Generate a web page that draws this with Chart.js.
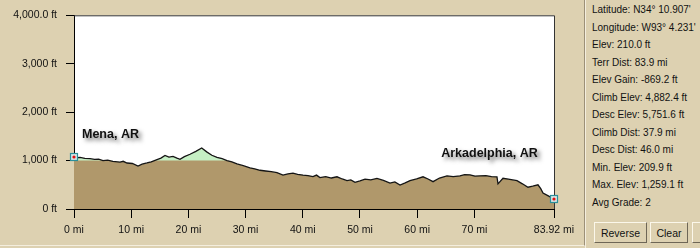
<!DOCTYPE html>
<html><head><meta charset="utf-8">
<script src="https://cdn.jsdelivr.net/npm/chart.js@4"></script>
<style>
html,body{margin:0;padding:0;}
body{background:#ddd1b1;width:700px;height:248px;overflow:hidden;font-family:"Liberation Sans",Arial,sans-serif;position:relative;}
#left{position:absolute;left:0;top:0;width:584px;height:245px;border-right:1px solid #9c9078;border-bottom:1px solid #f4eede;}
#left2{position:absolute;left:585px;top:0;width:1px;height:248px;background:#f4eede;}
#cv{position:absolute;left:0;top:0;width:584px;height:245px;}
#panel{position:absolute;left:592px;top:1px;font-size:10px;color:#111;}
#panel div{height:17.5px;line-height:17.5px;white-space:nowrap;}
.btn{position:absolute;top:222px;height:21px;line-height:21px;text-align:center;font-size:10.5px;color:#111;background:#ddd1b1;border:1px solid;border-color:#fbf7ea #6e6656 #6e6656 #fbf7ea;box-sizing:border-box;}
</style></head>
<body>
<div id="left"><div id="cv"><canvas id="c"></canvas></div></div>
<div id="left2"></div>
<div id="panel"></div>
<div class="btn" style="left:594px;width:53px;">Reverse</div>
<div class="btn" style="left:650px;width:38px;">Clear</div>
<div class="btn" style="left:692px;width:20px;"></div>
<script>
const distMi = [0,0.6,1.05,1.9,2.8,3.6,4.3,5.07,5.9,6.8,8.04,8.6,9.27,10.2,11.19,11.9,12.76,13.5,14.51,15.2,15.91,16.6,17.31,18.0,18.53,19.3,20.28,21.3,22.33,23.2,24.1,25.0,25.9,26.75,27.6,28.5,29.6,30.77,31.6,32.52,33.5,34.5,35.49,36.54,37.4,38.29,39.1,40.04,40.9,41.78,42.4,43.0,44.0,45.0,45.98,46.9,47.73,48.4,49.13,50.0,50.88,51.9,52.97,54.1,55.25,56.1,57.0,57.9,58.74,59.9,61.02,61.9,62.77,63.9,65.21,66.3,67.48,68.3,69.23,70.1,70.98,72.0,73.0,73.95,74.13,75.0,76.2,77.45,78.4,79.37,80.2,81.12,81.6,82.0,83.0,83.92];
const elevFt = [1080,1060,1065,1045,1040,1025,1030,1000,1010,985,970,985,950,940,885,925,950,975,1020,1050,1105,1070,1085,1050,1025,1080,1130,1190,1259,1180,1110,1065,1040,1000,975,930,895,850,830,800,785,770,750,700,725,740,715,700,690,670,700,650,670,640,665,620,585,600,550,580,615,600,630,590,535,560,495,540,585,620,665,620,565,640,685,670,685,710,705,680,685,690,670,665,520,635,610,585,520,450,470,500,420,330,265,210];
const greenAboveFt = 1000;
const xTickValues = [0,10,20,30,40,50,60,70,83.92];
const xTickLabels = ['0 mi','10 mi','20 mi','30 mi','40 mi','50 mi','60 mi','70 mi','83.92 mi'];
const yTickValues = [0,1000,2000,3000,4000];
const yTickLabels = ['0 ft','1,000 ft','2,000 ft','3,000 ft','4,000.0 ft'];
const placeNames = ['Mena, AR','Arkadelphia, AR'];
const statLines = ["Latitude: N34\u00b0 10.907'","Longitude: W93\u00b0 4.231'","Elev: 210.0 ft","Terr Dist: 83.9 mi","Elev Gain: -869.2 ft","Climb Elev: 4,882.4 ft","Desc Elev: 5,751.6 ft","Climb Dist: 37.9 mi","Desc Dist: 46.0 mi","Min. Elev: 209.9 ft","Max. Elev: 1,259.1 ft","Avg Grade: 2"];

document.getElementById('panel').innerHTML = statLines.map(s=>'<div>'+s+'</div>').join('');

const pts = distMi.map((d,i)=>({x:d,y:elevFt[i]}));
const basePts = distMi.map(d=>({x:d,y:greenAboveFt}));
const FONT = {family:'"Liberation Sans", Arial, sans-serif', size:10.5};

const bgPlugin = {
  id:'bg',
  beforeDraw(chart){
    const {ctx, chartArea:a} = chart;
    ctx.save(); ctx.fillStyle='#ffffff';
    ctx.fillRect(a.left,a.top,a.right-a.left,a.bottom-a.top); ctx.restore();
  },
  afterDatasetsDraw(chart){
    const {ctx, chartArea:a} = chart;
    ctx.save();
    ctx.strokeStyle='#333'; ctx.lineWidth=1;
    ctx.beginPath();
    ctx.moveTo(a.left,a.top+0.5); ctx.lineTo(a.right+0.5,a.top+0.5); ctx.lineTo(a.right+0.5,a.bottom);
    ctx.stroke();
    const xs = chart.scales.x, ys = chart.scales.y;
    ctx.font = 'bold 12.5px "Liberation Sans", Arial, sans-serif';
    ctx.textBaseline='alphabetic';
    ctx.shadowColor='rgba(0,0,0,0.55)'; ctx.shadowBlur=4; ctx.shadowOffsetX=3; ctx.shadowOffsetY=3;
    ctx.fillStyle='#111';
    ctx.fillText(placeNames[0], xs.getPixelForValue(1.4), ys.getPixelForValue(1460));
    ctx.fillText(placeNames[1], xs.getPixelForValue(64.2), ys.getPixelForValue(1080));
    ctx.shadowColor='transparent'; ctx.shadowBlur=0; ctx.shadowOffsetX=0; ctx.shadowOffsetY=0;
    const meta = chart.getDatasetMeta(0);
    [meta.data[0], meta.data[meta.data.length-1]].forEach(p=>{
      const x=Math.round(p.x), y=Math.round(p.y);
      ctx.fillStyle='#d6e6e6'; ctx.fillRect(x-4,y-4,8,8);
      ctx.strokeStyle='#2a8f9a'; ctx.lineWidth=1.2; ctx.strokeRect(x-3.5,y-3.5,7,7);
      ctx.fillStyle='#e01010'; ctx.beginPath(); ctx.arc(x,y,1.6,0,Math.PI*2); ctx.fill();
    });
    ctx.restore();
  }
};

new Chart(document.getElementById('c'), {
  type:'line',
  data:{datasets:[
    {data:pts, order:0, borderColor:'#151515', borderWidth:1.3, pointRadius:0, tension:0, fill:false},
    {data:basePts, order:1, borderWidth:0, borderColor:'rgba(0,0,0,0)', pointRadius:0, tension:0,
     fill:{target:0, above:'rgba(0,0,0,0)', below:'#c6efc4'}},
    {data:pts, order:2, borderWidth:0, borderColor:'rgba(0,0,0,0)', pointRadius:0, tension:0,
     fill:'origin', backgroundColor:'#b0986b'}
  ]},
  options:{
    responsive:true, maintainAspectRatio:false, animation:false,
    layout:{padding:{left:0,top:9,right:30,bottom:0}},
    plugins:{legend:{display:false}, tooltip:{enabled:false}},
    scales:{
      x:{type:'linear', min:0, max:83.92,
         afterBuildTicks:s=>{s.ticks = xTickValues.map(v=>({value:v}));},
         afterFit:s=>{s.height = 245-209;},
         ticks:{autoSkip:false, maxRotation:0, padding:6, color:'#111', font:FONT,
                callback:(v,i)=>xTickLabels[i]},
         grid:{drawOnChartArea:false, drawTicks:true, tickLength:9, color:'#000'},
         border:{display:true, color:'#000'}},
      y:{min:0, max:4000,
         afterBuildTicks:s=>{s.ticks=yTickValues.map(v=>({value:v}));},
         afterFit:s=>{s.width = 74;},
         ticks:{padding:9, color:'#111', font:FONT, callback:(v,i)=>yTickLabels[i]},
         grid:{drawOnChartArea:false, drawTicks:true, tickLength:8, color:'#000'},
         border:{display:true, color:'#000'}}
    }
  },
  plugins:[bgPlugin]
});
</script>
</body></html>
